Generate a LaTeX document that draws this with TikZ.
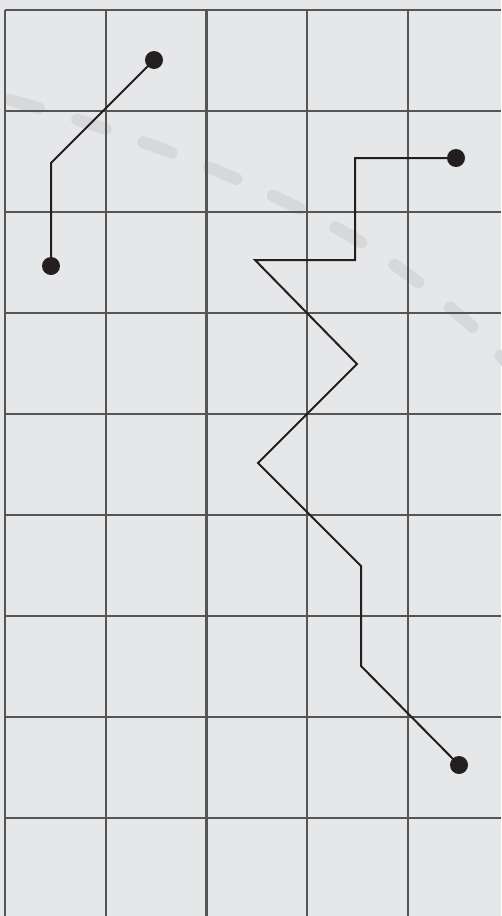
\documentclass[tikz,border=0pt]{standalone}
\definecolor{bg}{HTML}{E6E7E8}
\definecolor{gridgray}{HTML}{555555}
\definecolor{ink}{HTML}{231F20}
\definecolor{trail}{HTML}{D6D8DA}
\begin{document}
\begin{tikzpicture}[x=1pt,y=-1pt,
  gridline/.style={draw=gridgray,line width=2.2pt},
  route/.style={draw=ink,line width=2pt,line join=miter},
  dot/.style={circle,fill=ink,inner sep=0pt,minimum size=18pt},
  trailline/.style={draw=trail,line width=12pt,line cap=round,dash pattern=on 30pt off 40pt}]
\fill[bg] (0,0) rectangle (501,916);
\useasboundingbox (0,0) rectangle (501,916);
% faint dashed trail
\draw[trailline] plot[smooth,tension=0.6] coordinates {(10,100) (115,132) (243,182) (362,243) (467,322) (530,390)};
% grid
\foreach \i in {0,...,4} {\draw[gridline] ({5+100.75*\i},10) -- ({5+100.75*\i},916);}
\foreach \j in {0,...,8} {\draw[gridline] (5,{10+101*\j}) -- (501,{10+101*\j});}
% route 1
\node[dot] (a1) at (154,60) {};
\coordinate (a2) at (51,163);
\node[dot] (a3) at (51,266) {};
\draw[route] (a1.center) -- (a2) -- (a3.center);
% route 2
\node[dot] (b1) at (456,158) {};
\coordinate (b2) at (355,158);
\coordinate (b3) at (355,260);
\coordinate (b4) at (255,260);
\coordinate (b5) at (357,364);
\coordinate (b6) at (258,463);
\coordinate (b7) at (361,566);
\coordinate (b8) at (361,666);
\node[dot] (b9) at (459,765) {};
\draw[route] (b1.center) -- (b2) -- (b3) -- (b4) -- (b5) -- (b6) -- (b7) -- (b8) -- (b9.center);
\end{tikzpicture}
\end{document}
